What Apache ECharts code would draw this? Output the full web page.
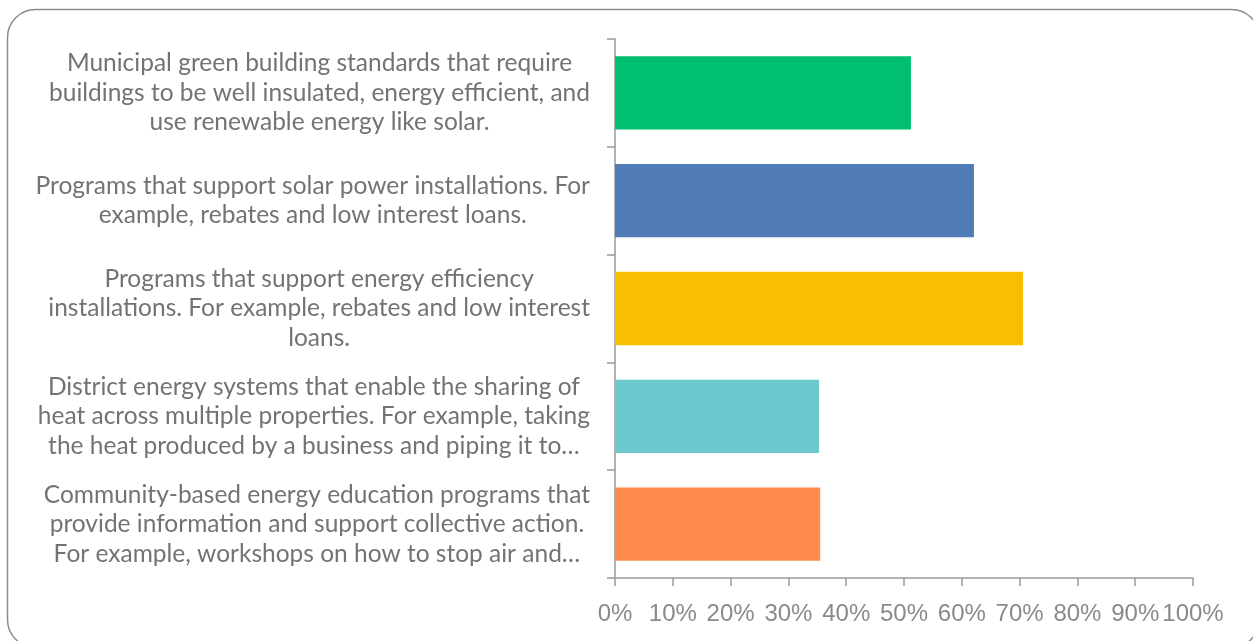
<!DOCTYPE html>
<html>
<head>
<meta charset="utf-8">
<title>Community energy program support</title>
<script src="https://cdn.jsdelivr.net/npm/echarts@6/dist/echarts.min.js"></script>
<style>
  html, body { margin: 0; padding: 0; background: #ffffff; }
  #chart { width: 1253px; height: 641px; }
</style>
</head>
<body>
<div id="chart"></div>
<script>
// Answer options, top to bottom, already broken into display lines
const categories = [
  'Municipal green building standards that require\nbuildings to be well insulated, energy efficient, and\nuse renewable energy like solar.',
  'Programs that support solar power installations. For\nexample, rebates and low interest loans.',
  'Programs that support energy efficiency\ninstallations. For example, rebates and low interest\nloans.',
  'District energy systems that enable the sharing of\nheat across multiple properties. For example, taking\nthe heat produced by a business and piping it to…',
  'Community-based energy education programs that\nprovide information and support collective action.\nFor example, workshops on how to stop air and…'
];

// Share of respondents (%)
const values = [51.2, 62.1, 70.6, 35.3, 35.5];

const barColors = ['#00BF6F', '#507CB6', '#F9BE00', '#6BC8CD', '#FF8B4F'];

const xTicks = [0, 10, 20, 30, 40, 50, 60, 70, 80, 90, 100];

const chart = echarts.init(document.getElementById('chart'), null, { renderer: 'canvas' });

const axisGrey = '#9a9a9a';

chart.setOption({
  animation: false,
  backgroundColor: '#ffffff',
  grid: { left: 615, right: 60, top: 39, bottom: 63, containLabel: false, outerBoundsMode: 'none' },
  xAxis: {
    type: 'value',
    min: xTicks[0],
    max: xTicks[xTicks.length - 1],
    interval: xTicks[1] - xTicks[0],
    splitLine: { show: false },
    axisLine: { show: true, lineStyle: { color: axisGrey, width: 1.5 } },
    axisTick: { show: true, length: 8, lineStyle: { color: axisGrey, width: 1.5 } },
    axisLabel: {
      margin: 24,
      color: '#8a8a8a',
      fontFamily: '"Liberation Sans", Arial, sans-serif',
      fontSize: 24,
      formatter: v => v + '%'
    }
  },
  yAxis: {
    type: 'category',
    inverse: true,
    data: categories,
    axisLine: { show: true, lineStyle: { color: axisGrey, width: 1.5 } },
    axisTick: { show: true, length: 8, lineStyle: { color: axisGrey, width: 1.5 } },
    splitLine: { show: false },
    axisLabel: {
      margin: 25,
      align: 'right',
      formatter: v => v.split('\n').map(l => '{c|' + l + '}').join('\n'),
      rich: {
        c: {
          align: 'center',
          color: '#737373',
          fontFamily: 'Lato, "Open Sans", sans-serif',
          fontSize: 24.5,
          lineHeight: 29.5
        }
      }
    }
  },
  graphic: [{
    type: 'rect',
    silent: true,
    z: -1,
    shape: { x: 7.5, y: 9.5, width: 1252, height: 638, r: 28 },
    style: { fill: 'none', stroke: '#8c8c8c', lineWidth: 1.5 }
  }],
  series: [{
    type: 'bar',
    barCategoryGap: '32%',
    data: values.map((v, i) => ({ value: v, itemStyle: { color: barColors[i] } })),
    label: { show: false }
  }]
});
</script>
</body>
</html>
